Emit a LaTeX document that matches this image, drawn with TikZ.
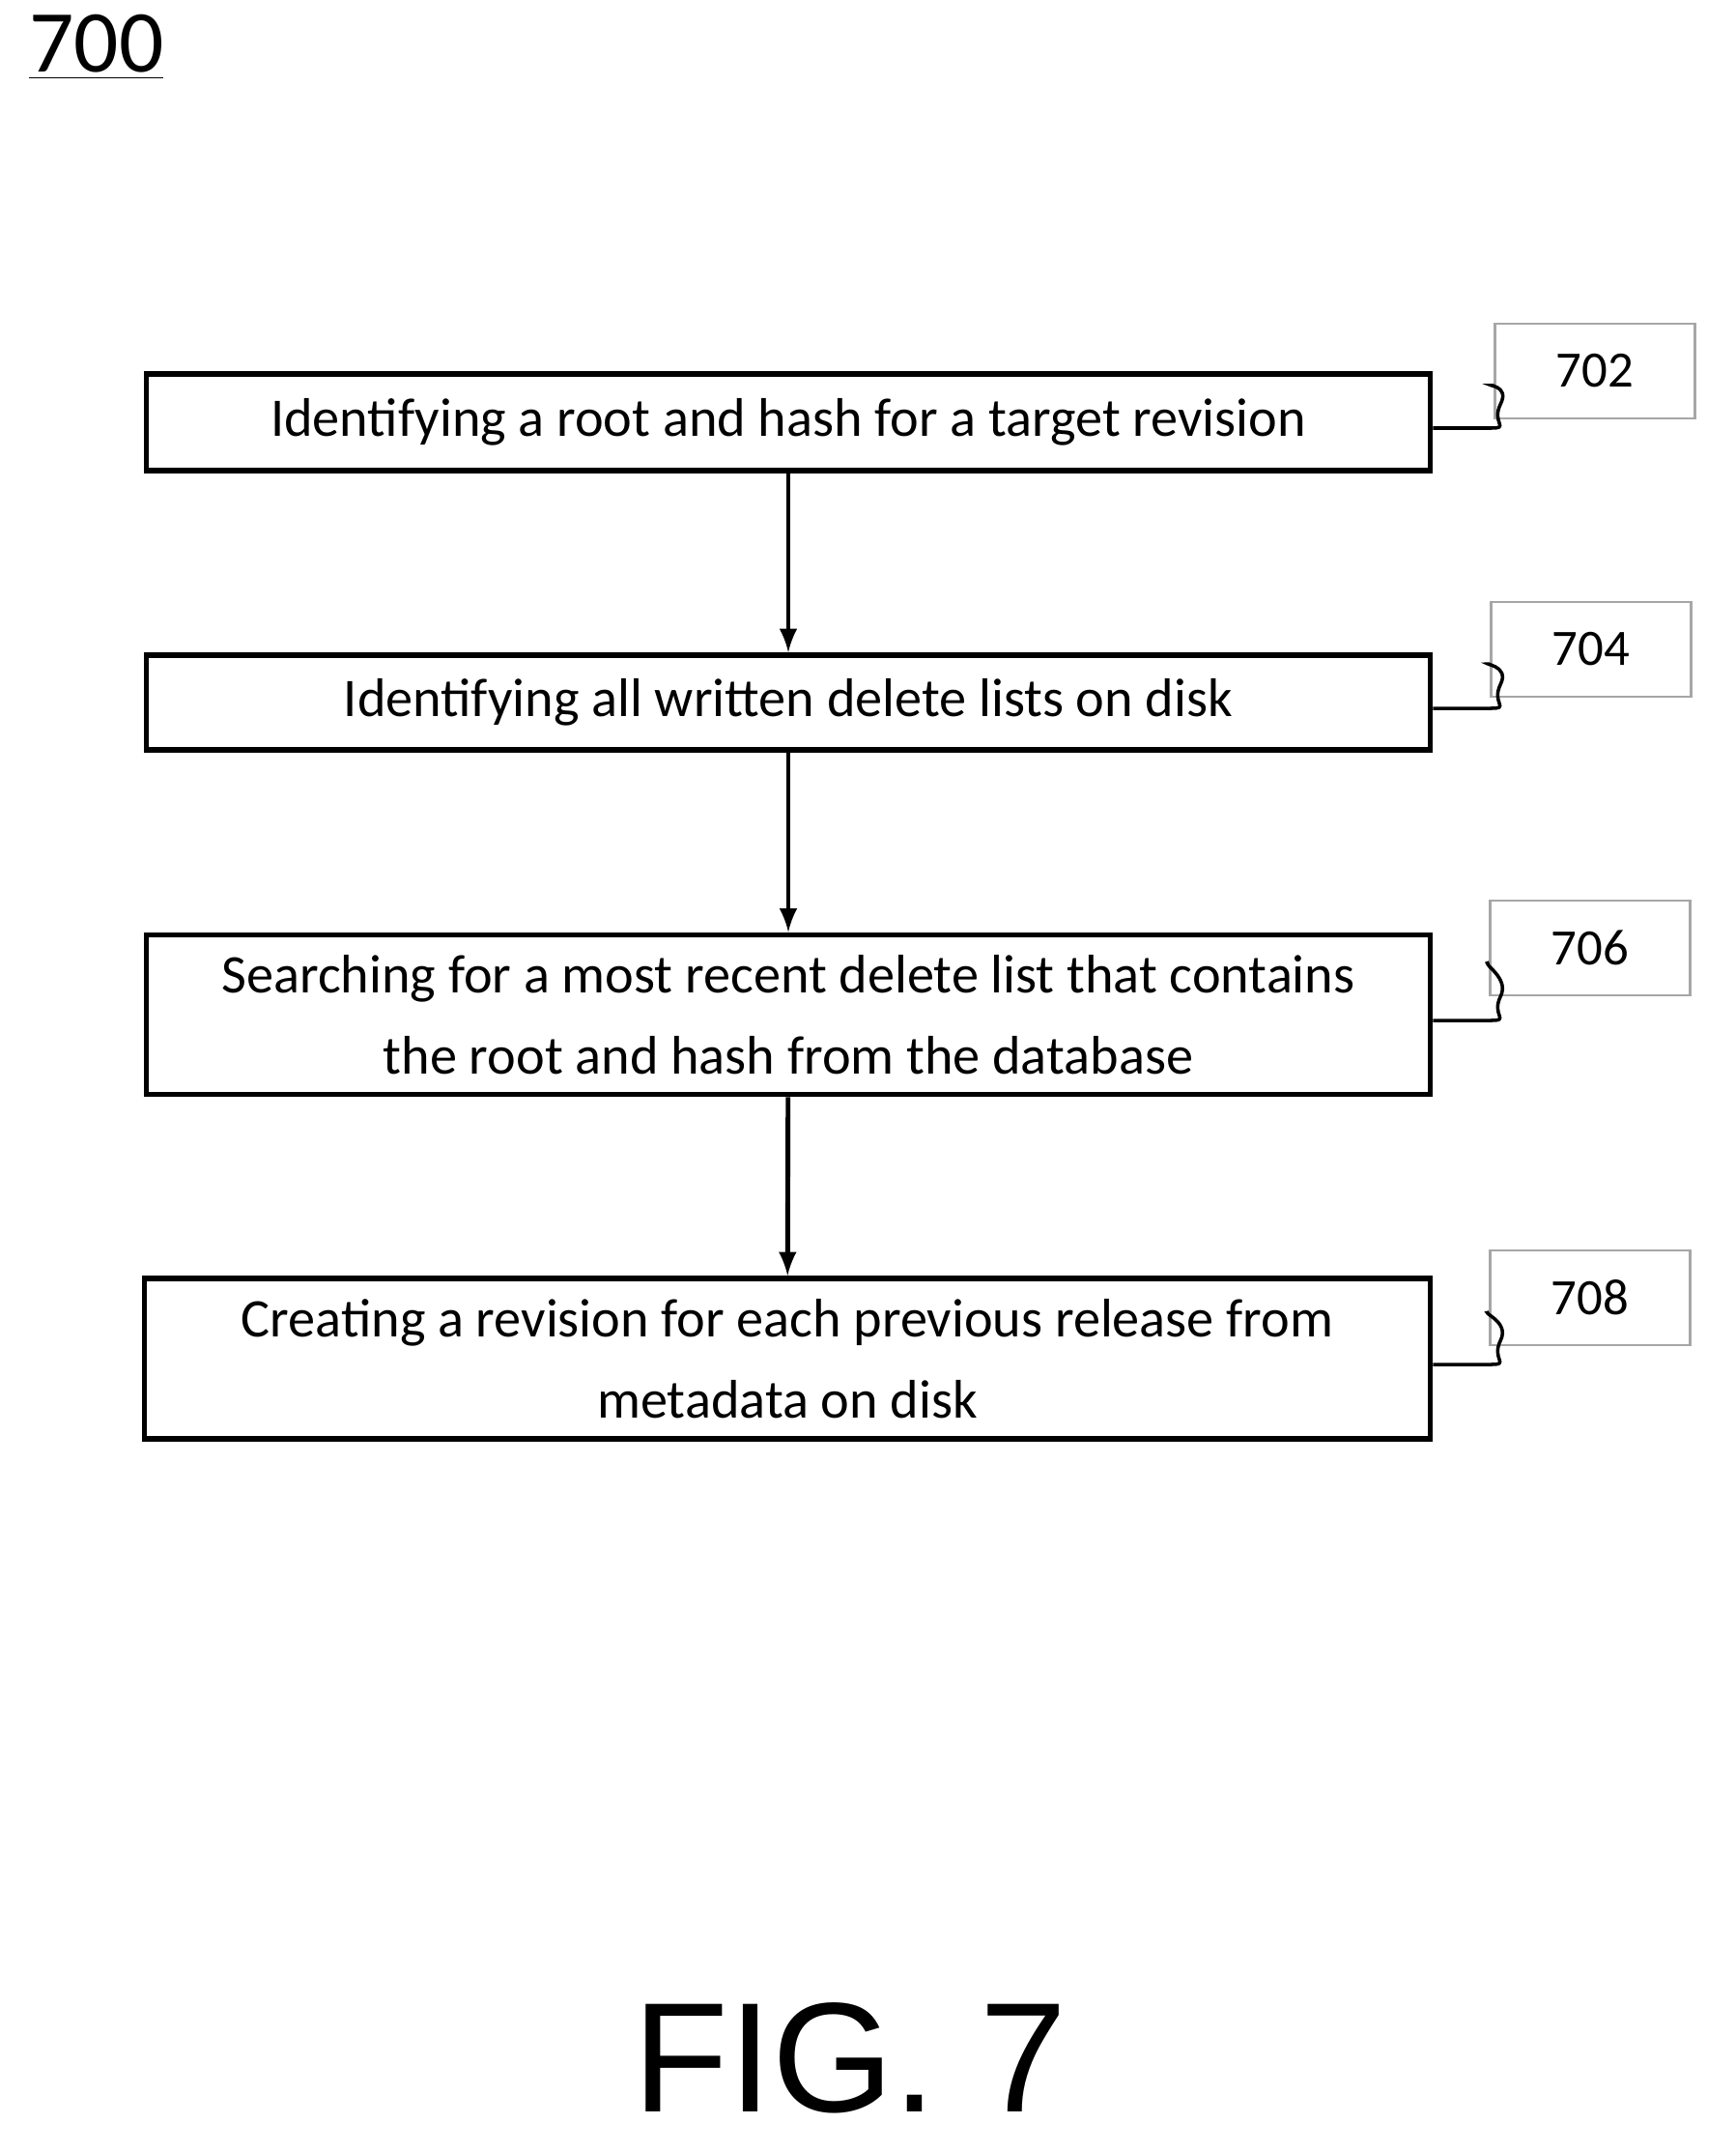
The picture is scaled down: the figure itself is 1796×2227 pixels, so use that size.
\documentclass[tikz,border=0pt]{standalone}
\usepackage{fontspec}
\setmainfont{Carlito}
\newfontfamily\figfont{Liberation Sans}
\usetikzlibrary{positioning}
\begin{document}
\begin{tikzpicture}[x=0.01cm,y=-0.01cm,
    action/.style = {draw, line width=1.6pt, minimum width=1329*0.01cm, align=center, font=\fontsize{16}{24}\selectfont, inner sep=0pt},
    tag/.style = {draw=gray!70, line width=0.6pt, minimum width=207*0.01cm, minimum height=98*0.01cm, font=\fontsize{15}{18}\selectfont},
    flow/.style = {-latex, line width=1.4pt},
    wave/.style = {line width=1pt}
  ]
    \useasboundingbox (0,0) rectangle (1796,2227);
    % title
    \node[font=\fontsize{26}{30}\selectfont, anchor=west] (T) at (18,49) {\underline{700}};
    % steps
    \node[action, minimum height=100*0.01cm] (S1) at (816,437) {Identifying a root and hash for a target revision};
    \node[action, minimum height=98*0.01cm] (S2) at (816,727) {Identifying all written delete lists on disk};
    \node[action, minimum height=165*0.01cm] (S3) at (816,1050) {Searching for a most recent delete list that contains\\the root and hash from the database};
    \node[action, minimum height=166*0.01cm, minimum width=1331*0.01cm] (S4) at (815,1406) {Creating a revision for each previous release from\\metadata on disk};
    % labels
    \node[tag] (L1) at (1651,384) {702};
    \node[tag] (L2) at (1647,672) {704};
    \node[tag] (L3) at (1646,981) {706};
    \node[tag] (L4) at (1646,1343) {708};
    % arrows
    \draw[flow] (S1) -- (S2);
    \draw[flow] (S2) -- (S3);
    \draw[flow] (S3) -- (S4);
    % squiggles
    \foreach \s/\l in {S1/L1,S2/L2,S3/L3,S4/L4}{
      \draw[wave] ([yshift=-6*0.01cm]\s.east) -- ++(60,0)
        .. controls +(20,0) and +(-10,20) .. ++(10,-25)
        .. controls +(10,-20) and +(-10,0) .. ([yshift=-15*0.01cm]\l.west);
    }
    \node[font=\figfont\fontsize{46}{50}\selectfont] (F) at (880,2130) {FIG. 7};
\end{tikzpicture}
\end{document}
